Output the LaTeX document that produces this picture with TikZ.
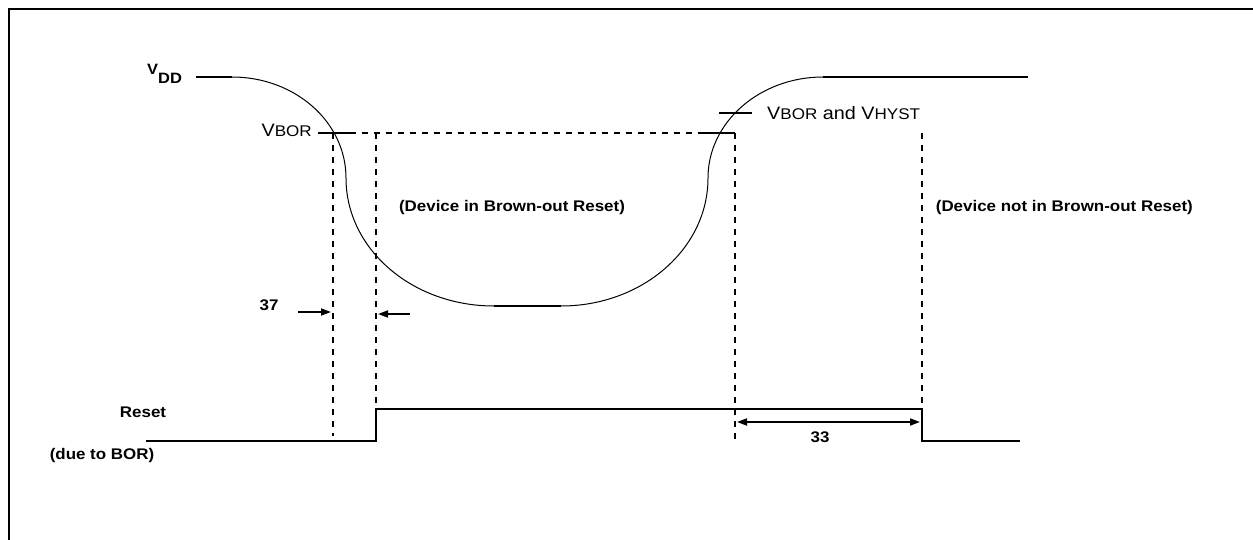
\documentclass[tikz,border=0pt]{standalone}
\usepackage{fontspec}
\setmainfont[FakeStretch=1.1]{Liberation Sans}
\usetikzlibrary{arrows.meta}
\newcommand{\bigsz}{\fontsize{18}{20}\selectfont}
\newcommand{\smsz}{\fontsize{15.5}{18}\selectfont}
\begin{document}
\begin{tikzpicture}[x=1pt,y=-1pt,
  thickline/.style={line width=1.8pt},
  thinline/.style={line width=1pt},
  dashline/.style={line width=1.6pt, dash pattern=on 6pt off 6pt},
  lbl/.style={font=\fontsize{15.4}{18}\selectfont\bfseries, inner sep=0pt},
  plain/.style={inner sep=0pt},
  arr/.style={line width=1.8pt, -{Triangle[length=10pt,width=7pt]}},
  darr/.style={line width=1.8pt, {Triangle[length=10pt,width=7pt]}-{Triangle[length=10pt,width=7pt]}},
]
\useasboundingbox (0,0) rectangle (1253,540);
% frame
\coordinate (fBL) at (9,540);
\coordinate (fTL) at (9,9);
\coordinate (fTR) at (1253,9);
\draw[line width=2pt] (fBL) -- (fTL) -- (fTR);

% VDD waveform
\coordinate (vddL) at (196,77);
\coordinate (c0) at (232,77);
\coordinate (c1) at (346,178);
\coordinate (b0) at (494,306);
\coordinate (b1) at (561,306);
\coordinate (c2) at (708,178);
\coordinate (c3) at (823,77);
\coordinate (vddR) at (1028,77);
\draw[thickline] (vddL) -- (c0);
\draw[thinline] (c0) .. controls (295,77) and (346,122) .. (c1)
  .. controls (346,249) and (412,306) .. (b0);
\draw[thickline] (b0) -- (b1);
\draw[thinline] (b1) .. controls (642,306) and (708,249) .. (c2)
  .. controls (708,122) and (760,77) .. (c3);
\draw[thickline] (c3) -- (vddR);

% VBOR level
\coordinate (vbA) at (318,133);
\coordinate (vbB) at (350,133);
\coordinate (vbC) at (699,133);
\coordinate (vbD) at (735,133);
\draw[thickline] (vbA) -- (vbB);
\draw[dashline] (vbB) -- (vbC);
\draw[thickline] (vbC) -- (vbD);
% VHYST tick
\coordinate (hyA) at (719,113);
\coordinate (hyB) at (752,113);
\draw[thickline] (hyA) -- (hyB);

% vertical dashed lines
\coordinate (d1t) at (333,133);
\coordinate (d1b) at (333,436);
\coordinate (d2t) at (376,133);
\coordinate (d2b) at (376,409);
\coordinate (d3t) at (735,133);
\coordinate (d3b) at (735,443);
\coordinate (d4t) at (922,133);
\coordinate (d4b) at (922,409);
\draw[dashline] (d1t) -- (d1b);
\draw[dashline] (d2t) -- (d2b);
\draw[dashline] (d3t) -- (d3b);
\draw[dashline] (d4t) -- (d4b);

% Reset waveform
\coordinate (r0) at (146,441);
\coordinate (r1) at (376,441);
\coordinate (r2) at (376,409);
\coordinate (r3) at (922,409);
\coordinate (r4) at (922,441);
\coordinate (r5) at (1020,441);
\draw[thickline] (r0) -- (r1) -- (r2) -- (r3) -- (r4) -- (r5);

% timing arrows
\coordinate (a1s) at (298,312);
\coordinate (a1e) at (331,312);
\coordinate (a2s) at (410,314);
\coordinate (a2e) at (378,314);
\coordinate (a3s) at (737,422);
\coordinate (a3e) at (920,422);
\draw[arr] (a1s) -- (a1e);
\draw[arr] (a2s) -- (a2e);
\draw[darr] (a3s) -- (a3e);

% labels
\node[lbl, anchor=base west] (vdd) at (147,75) {\fontsize{15}{17}\selectfont V\raisebox{-8.5pt}{DD}};
\node[plain, anchor=base east] (vbor) at (312,137) {\bigsz V\smsz BOR};
\node[plain, anchor=base west] (vhyst) at (767,120) {\bigsz V\smsz BOR\bigsz{} and V\smsz HYST};
\node[lbl, anchor=base] (inbor) at (512,212) {(Device in Brown-out Reset)};
\node[lbl, anchor=base east] (notbor) at (1193,212) {(Device not in Brown-out Reset)};
\node[lbl, anchor=base] (t37) at (269,310) {37};
\node[lbl, anchor=base] (t33) at (820,442) {33};
\node[lbl, anchor=base] (reset) at (143,417) {Reset};
\node[lbl, anchor=base] (due) at (102,459) {(due to BOR)};
\end{tikzpicture}
\end{document}
